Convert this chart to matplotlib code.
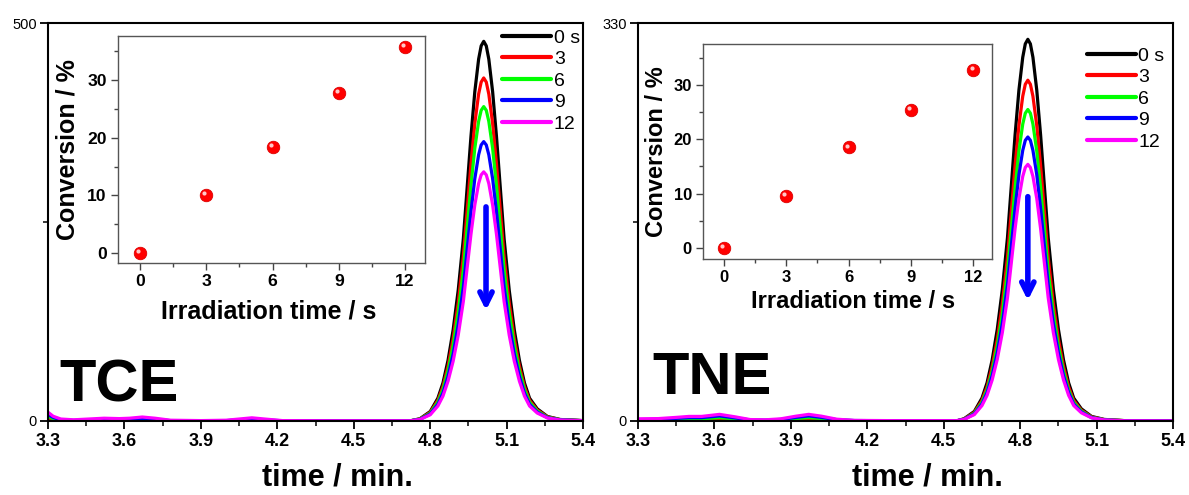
import matplotlib
matplotlib.use('Agg')
import matplotlib.pyplot as plt
from matplotlib.ticker import FixedLocator, MultipleLocator
from matplotlib.transforms import offset_copy

plt.rcParams['font.family'] = ['Liberation Sans', 'DejaVu Sans']

labels = ['0 s', '3', '6', '9', '12']
colors = ['#000000', '#ff0000', '#00ff00', '#0000ff', '#ff00ff']
time_ticks = [3.3, 3.6, 3.9, 4.2, 4.5, 4.8, 5.1, 5.4]

# TCE chromatograms (signal vs retention time, min)
tce_time = [3.30, 3.32, 3.35, 3.40, 3.46, 3.52, 3.58, 3.62, 3.67, 3.72, 3.78, 3.90, 4.00, 4.05,
            4.10, 4.15, 4.22, 4.40, 4.60, 4.72,
            4.76, 4.80, 4.83, 4.85, 4.87, 4.89, 4.91, 4.93, 4.945, 4.96, 4.975, 4.99, 5.00, 5.01,
            5.02, 5.03, 5.045, 5.06, 5.075, 5.09, 5.11, 5.13, 5.15, 5.17, 5.19, 5.22, 5.26, 5.31, 5.40]
tce_0s = [1, 0.5, 0.2, 0, 0.2, 0.3, 0.2, 0.3, 0.5, 0.3, 0, 0, 0, 0.2, 0.3, 0.2, 0, 0, 0, 0,
          2.9, 11.9, 28.6, 47.7, 76.3, 114.5, 164.6, 229.0, 293.4, 357.8, 413.6, 454.6, 471.3, 477,
          471.3, 454.6, 413.6, 357.8, 293.4, 229.0, 164.6, 114.5, 76.3, 47.7, 28.6, 15.3, 5.7, 1.9, 0.5]
tce_3s = [3, 1.5, 0.5, 0.2, 0.5, 0.8, 0.6, 0.8, 1, 0.8, 0.2, 0.1, 0.2, 0.5, 0.8, 0.5, 0.1, 0, 0, 0,
          2.6, 10.8, 25.9, 43.1, 69.0, 103.4, 148.7, 206.9, 265.1, 323.3, 373.7, 410.7, 425.8, 431,
          425.8, 410.7, 373.7, 323.3, 265.1, 206.9, 148.7, 103.4, 69.0, 43.1, 25.9, 13.8, 5.2, 1.7, 0.4]
tce_6s = [5.5, 3, 1, 0.5, 1, 1.5, 1.2, 1.5, 2, 1.5, 0.4, 0.2, 0.4, 1, 1.8, 1, 0.2, 0.1, 0.1, 0.1,
          2.4, 9.9, 23.7, 39.5, 63.2, 94.8, 136.3, 189.6, 242.9, 296.3, 342.5, 376.4, 390.3, 395,
          390.3, 376.4, 342.5, 296.3, 242.9, 189.6, 136.3, 94.8, 63.2, 39.5, 23.7, 12.6, 4.7, 1.6, 0.4]
tce_9s = [8, 4.5, 1.5, 0.8, 1.5, 2, 1.8, 2, 3, 2, 0.5, 0.3, 0.5, 1.5, 2.5, 1.5, 0.3, 0.2, 0.2, 0.2,
          2.1, 8.8, 21.1, 35.1, 56.2, 84.2, 121.1, 168.5, 215.9, 263.3, 304.3, 334.5, 346.8, 351,
          346.8, 334.5, 304.3, 263.3, 215.9, 168.5, 121.1, 84.2, 56.2, 35.1, 21.1, 11.2, 4.2, 1.4, 0.4]
tce_12s = [11, 6, 2.5, 1.5, 2.5, 3.5, 3, 3.5, 5, 3.5, 1, 0.5, 1, 2.5, 4, 2.5, 0.5, 0.3, 0.3, 0.3,
           1.9, 7.8, 18.8, 31.3, 50.1, 75.1, 108.0, 150.2, 192.5, 234.8, 271.4, 298.3, 309.2, 313,
           309.2, 298.3, 271.4, 234.8, 192.5, 150.2, 108.0, 75.1, 50.1, 31.3, 18.8, 10.0, 3.8, 1.3, 0.3]

# TNE chromatograms
tne_time = [3.30, 3.38, 3.45, 3.50, 3.55, 3.62, 3.68, 3.74, 3.80, 3.86, 3.92, 3.97, 4.02, 4.08,
            4.15, 4.30, 4.45, 4.55,
            4.58, 4.62, 4.65, 4.67, 4.69, 4.71, 4.73, 4.75, 4.765, 4.78, 4.795, 4.81, 4.82, 4.83,
            4.84, 4.85, 4.865, 4.88, 4.895, 4.91, 4.93, 4.95, 4.97, 4.99, 5.01, 5.04, 5.08, 5.13,
            5.21, 5.40]
tne_0s = [0.1, 0.1, 0.2, 0.3, 0.3, 0.4, 0.3, 0.1, 0, 0.1, 0.3, 0.4, 0.3, 0.1, 0, 0, 0, 0,
          1.9, 7.9, 19.0, 31.7, 50.6, 76.0, 109.2, 151.9, 194.6, 237.4, 274.4, 301.6, 312.7, 316.5,
          312.7, 301.6, 274.4, 237.4, 194.6, 151.9, 109.2, 76.0, 50.6, 31.7, 19.0, 10.1, 3.8, 1.3,
          0.3, 0.2]
tne_3s = [0.4, 0.5, 0.7, 0.9, 0.9, 1.4, 0.9, 0.3, 0.2, 0.4, 1.0, 1.4, 1.0, 0.4, 0.1, 0, 0, 0,
          1.7, 7.1, 17.0, 28.3, 45.2, 67.8, 97.5, 135.6, 173.8, 212.0, 245.0, 269.3, 279.2, 282.6,
          279.2, 269.3, 245.0, 212.0, 173.8, 135.6, 97.5, 67.8, 45.2, 28.3, 17.0, 9.0, 3.4, 1.1,
          0.3, 0.1]
tne_6s = [0.8, 0.9, 1.4, 1.8, 1.8, 2.8, 1.7, 0.6, 0.5, 0.9, 2.0, 2.8, 2.0, 0.7, 0.3, 0.1, 0.1, 0.1,
          1.5, 6.5, 15.5, 25.8, 41.3, 62.0, 89.1, 124.0, 158.9, 193.7, 223.9, 246.2, 255.2, 258.3,
          255.2, 246.2, 223.9, 193.7, 158.9, 124.0, 89.1, 62.0, 41.3, 25.8, 15.5, 8.3, 3.1, 1.0,
          0.3, 0.1]
tne_9s = [1.2, 1.4, 2.2, 2.8, 2.8, 4.2, 2.6, 0.9, 0.7, 1.3, 3.0, 4.2, 3.0, 1.1, 0.4, 0.2, 0.2, 0.2,
          1.4, 5.9, 14.1, 23.6, 37.7, 56.5, 81.2, 113.0, 144.8, 176.6, 204.2, 224.4, 232.7, 235.5,
          232.7, 224.4, 204.2, 176.6, 144.8, 113.0, 81.2, 56.5, 37.7, 23.6, 14.1, 7.5, 2.8, 0.9,
          0.2, 0.1]
tne_12s = [1.8, 2.0, 3.0, 3.8, 3.8, 5.5, 3.5, 1.2, 1.0, 1.8, 4.0, 5.5, 4.0, 1.5, 0.5, 0.3, 0.3, 0.3,
           1.3, 5.3, 12.8, 21.3, 34.0, 51.1, 73.4, 102.1, 130.9, 159.6, 184.5, 202.8, 210.2, 212.8,
           210.2, 202.8, 184.5, 159.6, 130.9, 102.1, 73.4, 51.1, 34.0, 21.3, 12.8, 6.8, 2.6, 0.9,
           0.2, 0.1]

# insets: conversion vs irradiation time
irr_time = [0, 3, 6, 9, 12]
tce_conv = [0, 10.1, 18.4, 27.7, 35.7]
tne_conv = [0, 9.6, 18.5, 25.4, 32.8]

fig = plt.figure(figsize=(11.89, 4.95), dpi=100)


def draw_panel(rect, time, curves, ymax, name, name_pos, arrow_x, arrow_y, leg_pos, xlab_x):
    ax = fig.add_axes(rect)
    for ys, c in zip(curves, colors):
        ax.plot(time, ys, color=c, linewidth=2.3, solid_joinstyle='round', solid_capstyle='round')
    ax.set_xlim(3.3, 5.4)
    ax.set_ylim(0, ymax)
    ax.set_xticks(time_ticks)
    ax.set_xticklabels(['%.1f' % t for t in time_ticks], fontsize=13, fontweight='bold')
    ax.xaxis.set_minor_locator(MultipleLocator(0.15))
    ax.set_yticks([0, ymax])
    ax.set_yticklabels(['0', str(ymax)], fontsize=10.5)
    ax.yaxis.set_minor_locator(FixedLocator([ymax / 2]))
    ax.tick_params(which='major', direction='out', length=6, width=1.3, pad=3)
    ax.tick_params(which='minor', direction='out', length=3.5, width=1.1)
    ax.tick_params(axis='y', pad=2)
    for sp in ax.spines.values():
        sp.set_linewidth(1.5)
    ax.set_xlabel('time / min.', fontsize=22, fontweight='bold')
    ax.xaxis.set_label_coords(xlab_x, -0.105)
    ax.text(name_pos[0], name_pos[1], name, transform=ax.transAxes, fontsize=43,
            fontweight='bold', ha='left', va='baseline')
    ax.annotate('', xy=(arrow_x, arrow_y[1]), xytext=(arrow_x, arrow_y[0]),
                arrowprops=dict(arrowstyle='->', color='#0000ff', lw=4, mutation_scale=22,
                                shrinkA=0, shrinkB=0))
    leg = ax.legend(labels, loc='upper left', bbox_to_anchor=leg_pos, frameon=False,
                    fontsize=14, handlelength=2.5, handletextpad=0.15, labelspacing=0.2,
                    borderpad=0, borderaxespad=0)
    for h in leg.get_lines():
        h.set_linewidth(3)
    return ax


def draw_inset(rect, conv, ylim, ylab_x, xlab_pos, fs):
    ax = fig.add_axes(rect)
    ax.plot(irr_time, conv, 'o', color='#ff0000', markersize=9, markeredgecolor='#dd0000',
            markeredgewidth=0.6)
    shine = offset_copy(ax.transData, fig=fig, x=-1.3, y=1.3, units='points')
    ax.plot(irr_time, conv, 'o', color='#ffc8c8', markersize=3, markeredgewidth=0, transform=shine)
    ax.set_xlim(-1.0, 12.9)
    ax.set_ylim(ylim)
    ax.set_xticks(irr_time)
    ax.set_xticklabels([str(t) for t in irr_time], fontsize=fs * 0.7, fontweight='bold')
    ax.xaxis.set_minor_locator(MultipleLocator(1.5))
    ax.set_yticks([0, 10, 20, 30])
    ax.set_yticklabels(['0', '10', '20', '30'], fontsize=fs * 0.7, fontweight='bold')
    ax.yaxis.set_minor_locator(MultipleLocator(5))
    ax.tick_params(which='major', direction='out', length=5, width=1, color='#444444', pad=3)
    ax.tick_params(which='minor', direction='out', length=3, width=1, color='#444444')
    for sp in ax.spines.values():
        sp.set_color('#555555')
        sp.set_linewidth(1)
    ax.set_ylabel('Conversion / %', fontsize=fs, fontweight='bold')
    ax.yaxis.set_label_coords(ylab_x, 0.5)
    ax.set_xlabel('Irradiation time / s', fontsize=fs, fontweight='bold')
    ax.xaxis.set_label_coords(xlab_pos[0], xlab_pos[1])
    return ax


draw_panel([0.0404, 0.1495, 0.45, 0.804], tce_time,
           [tce_0s, tce_3s, tce_6s, tce_9s, tce_12s], 500, 'TCE', (0.022, 0.048),
           5.019, (269, 139), (0.849, 0.985), 0.54)
draw_panel([0.5366, 0.1495, 0.45, 0.804], tne_time,
           [tne_0s, tne_3s, tne_6s, tne_9s, tne_12s], 330, 'TNE', (0.026, 0.068),
           4.83, (186, 100), (0.839, 0.94), 0.54)

draw_inset([0.0992, 0.4687, 0.2582, 0.4586], tce_conv, (-1.7, 37.6), -0.124, (0.49, -0.163), 18)
draw_inset([0.5913, 0.4768, 0.2431, 0.4343], tne_conv, (-2.0, 37.5), -0.121, (0.52, -0.144), 17)

fig.savefig('out.png', dpi=100)
